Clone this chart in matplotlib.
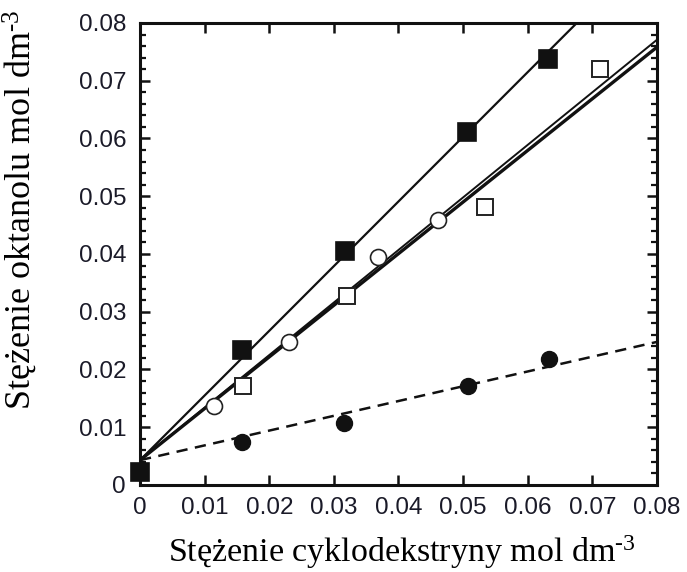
import matplotlib
matplotlib.use("Agg")
import matplotlib.pyplot as plt
from matplotlib.ticker import MultipleLocator, FuncFormatter
import numpy as np

# data
sq_filled_x = [0.0, 0.0158, 0.0317, 0.0506, 0.0632]
sq_filled_y = [0.0022, 0.0234, 0.0405, 0.0611, 0.0737]
sq_open_x = [0.0159, 0.0320, 0.0534, 0.0712]
sq_open_y = [0.0171, 0.0327, 0.0481, 0.0720]
circ_open_x = [0.0115, 0.0230, 0.0368, 0.0461]
circ_open_y = [0.0137, 0.0248, 0.0395, 0.0459]
circ_filled_x = [0.0158, 0.0316, 0.0508, 0.0633]
circ_filled_y = [0.0074, 0.0107, 0.0171, 0.0218]

# fitted lines: intercept, slope
fit_sq_filled = (0.0043, 1.120)
fit_sq_open = (0.0043, 0.910)
fit_circ_open = (0.0043, 0.894)
fit_circ_filled = (0.0043, 0.256)

xlabel = r"Stężenie cyklodekstryny mol dm$^{\text{-}3}$"
ylabel = r"Stężenie oktanolu mol dm$^{\text{-}3}$"

plt.rcParams['mathtext.fontset'] = 'custom'
plt.rcParams['mathtext.rm'] = 'Liberation Serif'
plt.rcParams['mathtext.it'] = 'Liberation Serif:italic'
plt.rcParams['mathtext.bf'] = 'Liberation Serif:bold'

fig = plt.figure(figsize=(6.87, 5.72), dpi=100)
ax = fig.add_axes([0.2038, 0.1521, 0.7525, 0.8077])

xs = np.array([0.0, 0.08])
def fit(p):
    return p[0] + p[1] * xs

ax.plot(xs, fit(fit_circ_open), color='#111111', lw=2.4, zorder=2, solid_capstyle='butt')
ax.plot(xs, fit(fit_sq_open), color='#111111', lw=1.4, zorder=2, solid_capstyle='butt')
ax.plot(xs, fit(fit_sq_filled), color='#111111', lw=1.6, zorder=2)
ax.plot(xs, fit(fit_circ_filled), color='#111111', lw=1.8, ls=(0, (4.5, 3)), zorder=2)

ax.plot(sq_filled_x, sq_filled_y, ls='none', marker='s', ms=12.5, mfc='#111111', mec='#111111', mew=1.2, zorder=4, clip_on=False)
ax.plot(sq_open_x, sq_open_y, ls='none', marker='s', ms=11.5, mfc='white', mec='#222222', mew=1.4, zorder=4)
ax.plot(circ_open_x, circ_open_y, ls='none', marker='o', ms=11.5, mfc='white', mec='#222222', mew=1.2, zorder=4)
ax.plot(circ_filled_x, circ_filled_y, ls='none', marker='o', ms=11.5, mfc='#111111', mec='#111111', mew=1.0, zorder=4)

ax.set_xlim(0, 0.08)
ax.set_ylim(0, 0.08)
ax.xaxis.set_major_locator(MultipleLocator(0.01))
ax.yaxis.set_major_locator(MultipleLocator(0.01))
ax.yaxis.set_minor_locator(MultipleLocator(0.002))

def fmt(v, pos):
    if abs(v) < 1e-9:
        return "0"
    return f"{v:.2f}"
ax.xaxis.set_major_formatter(FuncFormatter(fmt))
ax.yaxis.set_major_formatter(FuncFormatter(fmt))

for s in ax.spines.values():
    s.set_linewidth(2.2)
    s.set_color('#111111')

ax.tick_params(axis='both', which='major', direction='in', length=7, width=1.8,
               top=True, right=True, labelsize=17.5, colors='#111111', labelcolor='#1a1a28')
ax.tick_params(axis='x', which='major', pad=9)
ax.tick_params(axis='y', which='major', pad=10)
ax.tick_params(axis='y', which='minor', direction='in', length=4, width=1.6, left=True, right=True, colors='#111111')
for lab in ax.get_xticklabels() + ax.get_yticklabels():
    lab.set_family('Liberation Sans')

ax.set_xlabel(xlabel, family='Liberation Serif', fontsize=24.5)
ax.set_ylabel(ylabel, family='Liberation Serif', fontsize=26)
ax.xaxis.set_label_coords(0.506, -0.105)
ax.yaxis.set_label_coords(-0.195, 0.595)

fig.savefig("out.png", dpi=100)
